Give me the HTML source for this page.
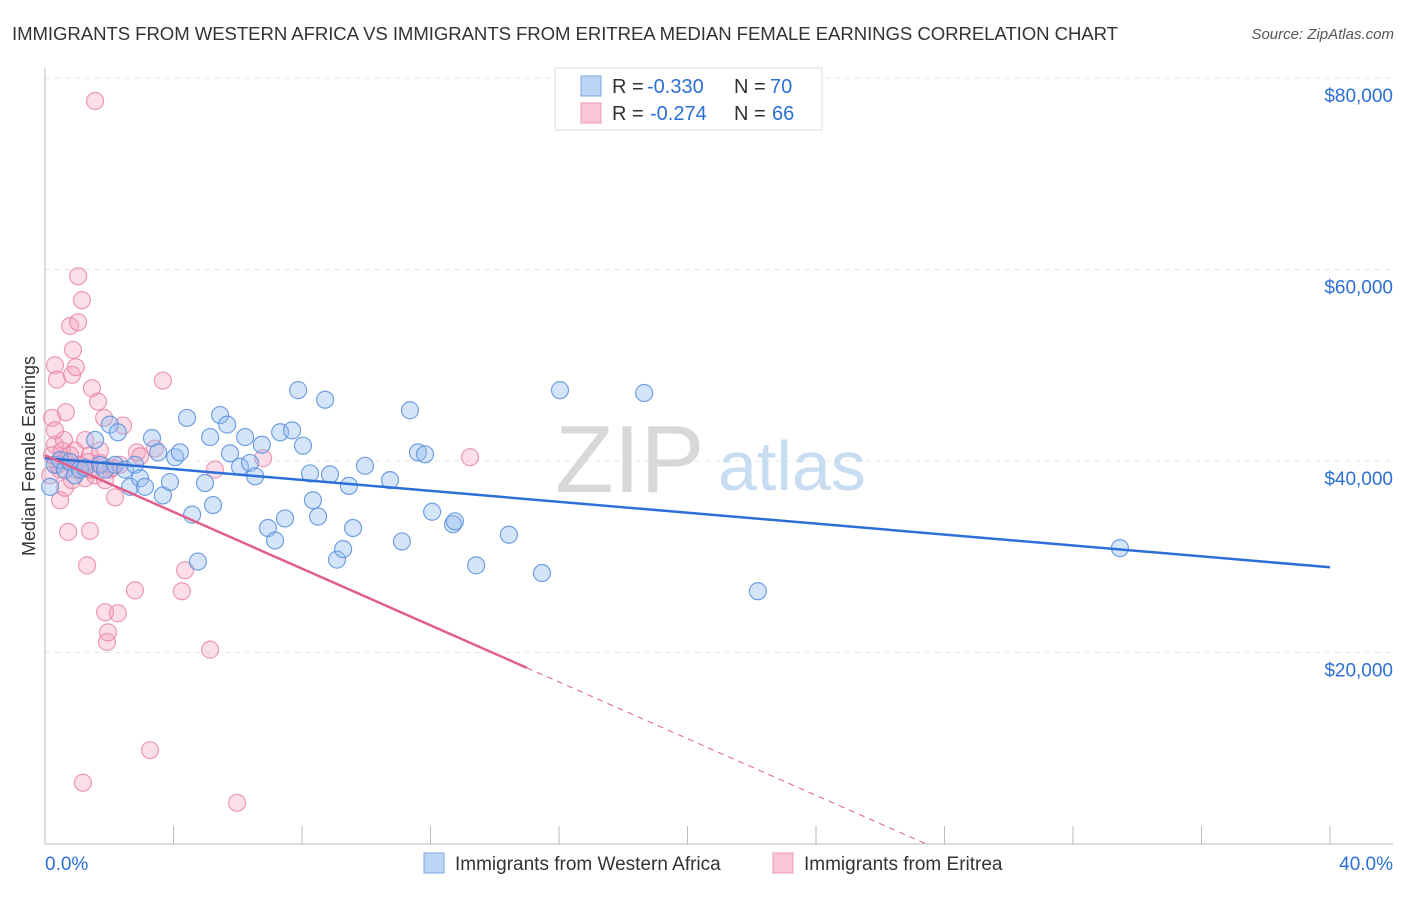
<!DOCTYPE html>
<html><head><meta charset="utf-8"><style>
body{margin:0;background:#fff;font-family:"Liberation Sans",sans-serif}
svg text{font-family:"Liberation Sans",sans-serif}
</style></head><body>
<svg id="chart" width="1406" height="892">
<text x="12" y="40" font-size="18.6" fill="#333" textLength="1106">IMMIGRANTS FROM WESTERN AFRICA VS IMMIGRANTS FROM ERITREA MEDIAN FEMALE EARNINGS CORRELATION CHART</text>
<text x="1394" y="39" font-size="15" fill="#555" font-style="italic" text-anchor="end">Source: ZipAtlas.com</text>
<g id="grid"></g>
<text x="555" y="492" font-size="96" fill="#d8d8d8" font-family="Liberation Serif">ZIP</text>
<text x="718" y="490" font-size="70" fill="#c8dcf2">atlas</text>
<g id="points"></g>
<g id="lines"></g>
<text x="35" y="456" font-size="18" fill="#333" text-anchor="middle" transform="rotate(-90 35 456)">Median Female Earnings</text>
<g>
<rect x="555" y="68" width="267" height="62" fill="#fff" stroke="#ddd"/>
<rect x="581" y="76" width="20" height="20" fill="#bcd5f5" stroke="#7aa6e0"/>
<text y="93" font-size="20" fill="#333"><tspan x="612">R =</tspan><tspan x="647" fill="#2c6fd6">-0.330</tspan><tspan x="734">N =</tspan><tspan x="770" fill="#2c6fd6">70</tspan></text>
<rect x="581" y="103" width="20" height="20" fill="#f9c6d5" stroke="#eb9ab5"/>
<text y="120" font-size="20" fill="#333"><tspan x="612">R =</tspan><tspan x="650" fill="#2c6fd6">-0.274</tspan><tspan x="734">N =</tspan><tspan x="772" fill="#2c6fd6">66</tspan></text>
</g>
<g>
<rect x="424" y="853" width="20" height="20" fill="#bcd5f5" stroke="#7aa6e0"/>
<text x="455" y="870" font-size="19" fill="#333">Immigrants from Western Africa</text>
<rect x="773" y="853" width="20" height="20" fill="#f9c6d5" stroke="#eb9ab5"/>
<text x="804" y="870" font-size="19" fill="#333">Immigrants from Eritrea</text>
</g>
</svg>
<script>
const blueX=[0.16,0.31,0.47,0.62,0.78,0.93,1.09,1.25,1.56,1.71,1.87,2.02,2.18,2.27,2.49,2.65,2.80,2.96,3.11,3.33,3.52,3.67,3.89,4.05,4.20,4.42,4.58,4.76,4.98,5.14,5.23,5.45,5.67,5.76,6.07,6.23,6.38,6.54,6.75,6.94,7.16,7.32,7.47,7.69,7.88,8.03,8.25,8.34,8.50,8.72,8.87,9.09,9.28,9.46,9.59,9.96,10.74,11.11,11.36,11.61,11.83,12.05,12.70,12.76,13.42,14.44,15.47,16.03,18.65,22.19,33.46];
const blueY=[37.3,39.6,40.1,39.1,39.9,38.5,39.1,39.3,42.2,39.6,39.1,43.8,39.6,43.0,39.1,37.3,39.6,38.2,37.3,42.4,40.9,36.4,37.8,40.4,40.9,44.5,34.4,29.5,37.7,42.5,35.4,44.8,43.8,40.8,39.4,42.5,39.8,38.4,41.7,33.0,31.7,43.0,34.0,43.2,47.4,41.6,38.7,35.9,34.2,46.4,38.6,29.7,30.8,37.4,33.0,39.5,38.0,31.6,45.3,40.9,40.7,34.7,33.4,33.7,29.1,32.3,28.3,47.4,47.1,26.4,30.9];
const pinkX=[0.16,0.22,0.31,0.31,0.37,0.47,0.53,0.62,0.65,0.72,0.78,0.84,0.87,0.93,0.96,1.03,1.03,1.15,1.25,1.31,1.40,1.40,1.46,1.56,1.65,1.71,1.84,1.87,1.93,1.96,2.02,2.18,2.27,2.33,2.43,2.80,2.86,2.96,3.27,3.42,3.67,4.26,4.36,5.14,5.29,5.98,6.79,13.23,1.18,0.47,0.62,0.84,1.09,1.34,1.56,0.22,0.40,0.59,0.93,1.71,2.09,1.25,0.78,1.40,1.87,0.31];
const pinkY=[38.5,44.5,41.7,50.0,48.5,35.9,41.1,37.2,45.1,32.6,54.1,49.0,51.6,41.1,49.8,54.5,59.3,56.8,38.2,29.1,40.6,32.7,47.6,77.6,46.2,41.1,44.5,24.2,21.1,22.1,39.1,36.2,24.1,39.6,43.7,26.5,40.9,40.5,9.8,41.3,48.4,26.4,28.6,20.3,39.1,4.3,40.3,40.4,6.4,39.1,40.1,38.0,39.6,39.9,38.5,40.6,39.6,42.2,39.1,39.8,39.3,42.2,40.6,39.1,38.0,43.2];
const trendIntercept=[40.3,40.6];
const trendSlope=[-0.285,-1.48];
const yTicks=[20,40,60,80];
const yTickLabels=["$20,000","$40,000","$60,000","$80,000"];
const xTickLabels=["0.0%","40.0%"];
const NS="http://www.w3.org/2000/svg";
const sx=v=>45+v*1285/40, sy=v=>844-v*191.5/20;
function mk(tag,attrs,parent){const e=document.createElementNS(NS,tag);for(const k in attrs)e.setAttribute(k,attrs[k]);parent.appendChild(e);return e;}
const grid=document.getElementById('grid');
yTicks.forEach((t,i)=>{
 const l=mk('line',{x1:45,x2:1393,y1:sy(t),y2:sy(t),stroke:'#e4e4e4','stroke-dasharray':'5,5'},grid);
 
 
 const tx=mk('text',{x:1393,y:sy(t)+24,'font-size':19,fill:'#2c6fd6','text-anchor':'end'},grid);
 tx.textContent=yTickLabels[i];
 
 
});
const ax=mk('line',{x1:45,x2:45,y1:68,y2:844,stroke:'#bbb'},grid);


const bx=mk('line',{x1:45,x2:1393,y1:844,y2:844,stroke:'#bbb'},grid);


for(let i=0;i<=10;i++){const t=mk('line',{x1:sx(i*4),x2:sx(i*4),y1:826,y2:844,stroke:'#bbb'},grid);
 
 }
[[0,'start',45],[40,'end',1393]].forEach((d,i)=>{const t=mk('text',{x:d[2],y:870,'font-size':19,fill:'#2c6fd6','text-anchor':d[1]},grid);t.textContent=xTickLabels[i];
 
 });
const pts=document.getElementById('points');
pinkX.forEach((x,i)=>{const c=mk('circle',{cx:sx(x),cy:sy(pinkY[i]),r:8.5,fill:'rgba(244,160,188,0.35)',stroke:'rgba(232,130,165,0.8)','stroke-width':1.2},pts);
 
 });
blueX.forEach((x,i)=>{const c=mk('circle',{cx:sx(x),cy:sy(blueY[i]),r:8.5,fill:'rgba(150,190,240,0.4)',stroke:'rgba(90,145,220,0.85)','stroke-width':1.2},pts);
 
 });
const lines=document.getElementById('lines');
const f=(k,x)=>trendIntercept[k]+trendSlope[k]*x;
const b=mk('line',{x1:sx(0),y1:sy(f(0,0)),x2:sx(40),y2:sy(f(0,40)),stroke:'#2c6fd6','stroke-width':2.5},lines);


const xEnd=15, xZero=-trendIntercept[1]/trendSlope[1];
const p=mk('line',{x1:sx(0),y1:sy(f(1,0)),x2:sx(xEnd),y2:sy(f(1,xEnd)),stroke:'#e0608a','stroke-width':2.5},lines);


const pd=mk('line',{x1:sx(xEnd),y1:sy(f(1,xEnd)),x2:sx(xZero),y2:sy(0),stroke:'#e0608a','stroke-width':1,'stroke-dasharray':'6,5'},lines);


</script>
</body></html>
